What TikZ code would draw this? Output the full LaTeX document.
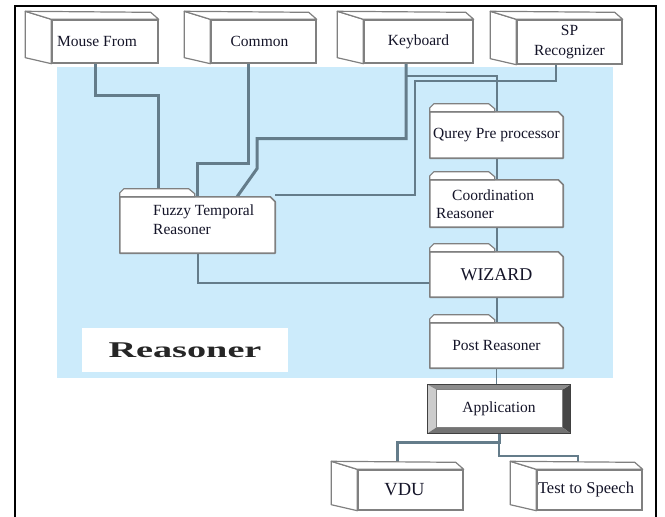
\documentclass[tikz,border=0pt]{standalone}
\usepackage{fontspec}
\setmainfont{Liberation Serif}
\usetikzlibrary{calc}
\pgfdeclarelayer{bg}
\pgfdeclarelayer{lines}
\pgfdeclarelayer{boxes}
\pgfsetlayers{bg,lines,boxes,main}

\definecolor{skyb}{RGB}{204,235,251}
\definecolor{conc}{RGB}{100,124,138}
\definecolor{edge}{RGB}{128,128,128}
\definecolor{ink}{RGB}{20,20,40}

\tikzset{
 conn/.style={draw=conc, line width=3pt},
 thinconn/.style={draw=conc, line width=2pt},
 hairconn/.style={draw=conc, line width=1pt},
 frontbox/.style={draw=edge, fill=white, line width=1.4pt, inner sep=0pt, font=\fontsize{15.5}{20}\selectfont, text=ink},
 holder/.style={inner sep=0pt, draw=none, font=\fontsize{15.5}{19}\selectfont, text=ink},
 txt/.style={font=\fontsize{15.5}{19}\selectfont, text=ink, inner sep=0pt},
 face/.style={draw=edge, fill=white, line width=1.2pt, line join=round},
}

\newcommand\cubefaces[1]{%
 \begin{pgfonlayer}{boxes}
 \path[face] (#1.north west) -- ([xshift=-26pt,yshift=8pt]#1.north west) -- ([xshift=-26pt,yshift=6pt]#1.south west) -- (#1.south west) -- cycle;
 \path[face] (#1.north west) -- ([xshift=-26pt,yshift=8pt]#1.north west) -- ([xshift=-8pt,yshift=7pt]#1.north east) -- (#1.north east) -- cycle;
 \end{pgfonlayer}}

\newcommand\folderbody[2]{%
 \begin{pgfonlayer}{boxes}
 \path[face, line width=1.6pt] (#1.north west) -- ([xshift=-5pt]#1.north east) -- ([yshift=-5pt]#1.north east) -- (#1.south east) -- (#1.south west) -- cycle;
 \path[face] (#1.north west) -- +(0,-4) -- +(4,-8) -- +(#2-6,-8) -- +(#2,-3) -- +(#2,0) -- cycle;
 \end{pgfonlayer}}

\begin{document}
\begin{tikzpicture}[x=1pt,y=-1pt]
\useasboundingbox (0,0) rectangle (665,517);

% blue region
\begin{pgfonlayer}{bg}
\fill[skyb] (57,67) rectangle (613,378);
\end{pgfonlayer}

% outer frame
\draw[line width=2.5pt] (15,517) -- (15,6) -- (656,6) -- (656,517);

% top cubes
\node[frontbox, minimum width=106pt, minimum height=43pt] (mouse) at (105,41.5) {Mouse From\kern16pt\mbox{}};
\node[frontbox, minimum width=105pt, minimum height=43pt] (common) at (263.5,41.5) {Common\kern8pt\mbox{}};
\node[frontbox, minimum width=109pt, minimum height=43pt] (kbd) at (418.5,41.5) {Keyboard};
\node[frontbox, minimum width=105pt, minimum height=44pt, align=center] (sp) at (569.5,42) {SP\\Recognizer};
\cubefaces{mouse}
\cubefaces{common}
\cubefaces{kbd}
\cubefaces{sp}

% bottom cubes
\node[frontbox, minimum width=105pt, minimum height=40pt, font=\fontsize{18.5}{20}\selectfont] (vdu) at (410.5,490) {VDU\kern12pt\mbox{}};
\node[frontbox, minimum width=105pt, minimum height=40pt, font=\fontsize{16.5}{20}\selectfont] (tts) at (589.5,490) {Test to Speech\kern7pt\mbox{}};
\cubefaces{vdu}
\cubefaces{tts}

% folders
\node[holder, minimum width=155pt, minimum height=56pt] (fuzzy) at (197.5,225) {};
\node[txt, align=left, anchor=west] (fuzzyt) at (153,220) {Fuzzy Temporal\\Reasoner};
\folderbody{fuzzy}{75}

\node[holder, minimum width=133pt, minimum height=46pt] (qurey) at (496.5,135) {Qurey Pre processor};
\folderbody{qurey}{65}

\node[holder, minimum width=133pt, minimum height=47pt] (coord) at (496.5,203.5) {};
\node[txt, anchor=west] (coordt1) at (452,195) {Coordination};
\node[txt, anchor=west] (coordt2) at (436,213) {Reasoner};
\folderbody{coord}{65}

\node[holder, minimum width=133pt, minimum height=45pt, font=\fontsize{18}{20}\selectfont] (wizard) at (496.5,274.5) {WIZARD};
\folderbody{wizard}{65}

\node[holder, minimum width=133pt, minimum height=45pt] (post) at (496.5,345.5) {Post Reasoner};
\folderbody{post}{65}

% application
\node[holder, minimum width=142pt, minimum height=48pt] (app) at (499,409) {Application};
\begin{pgfonlayer}{boxes}
\fill[black!20] (app.north west) -- ([xshift=9pt,yshift=-5pt]app.north west) -- ([xshift=9pt,yshift=6pt]app.south west) -- (app.south west) -- cycle;
\fill[black!72] (app.north east) -- ([xshift=-8pt,yshift=-5pt]app.north east) -- ([xshift=-8pt,yshift=6pt]app.south east) -- (app.south east) -- cycle;
\fill[black!45] (app.north west) -- (app.north east) -- ([xshift=-8pt,yshift=-5pt]app.north east) -- ([xshift=9pt,yshift=-5pt]app.north west) -- cycle;
\fill[black!55] (app.south west) -- (app.south east) -- ([xshift=-8pt,yshift=6pt]app.south east) -- ([xshift=9pt,yshift=6pt]app.south west) -- cycle;
\draw[edge, fill=white, line width=1pt] ([xshift=9pt,yshift=-5pt]app.north west) rectangle ([xshift=-8pt,yshift=6pt]app.south east);
\draw[black!75, line width=1.3pt] (app.north west) rectangle (app.south east);
\end{pgfonlayer}

% reasoner label
\node[fill=white, minimum width=206pt, minimum height=44pt, inner sep=0pt] (rlabel) at (185,350) {\scalebox{1.7}[1]{\fontsize{22.5}{23}\selectfont\bfseries\color{black!85}Reasoner}};

% connectors
\begin{pgfonlayer}{lines}
\draw[conn] ([xshift=-10pt]mouse.south) -- ++(0,32) -| ($(fuzzy.north west)+(39,0)$);
\draw[conn] ([xshift=-15.5pt]common.south) -- ++(0,100) -| (fuzzy.north);
\draw[conn] ([xshift=-12.5pt]kbd.south) -- ++(0,75) -- ++(-149,0) -- ++(0,30) -- ($(fuzzy.north)+(39.5,0)$);
\draw[thinconn] ([xshift=-12.5pt,yshift=-12pt]kbd.south) -| (qurey.north);
\draw[thinconn] ([xshift=-13.5pt]sp.south) -- ++(0,16) -- ++(-141,0) |- ([yshift=2pt]fuzzy.north east);
\draw[thinconn] (qurey.south) -- (coord.north);
\draw[thinconn] (coord.south) -- (wizard.north);
\draw[thinconn] (wizard.south) -- (post.north);
\draw[hairconn] (post.south) -- (post.south |- app.north);
\draw[thinconn] (fuzzy.south) |- ([yshift=-8.5pt]wizard.west);
\draw[conn] (app.south) -- ++(0,9) -| ([xshift=-13.5pt]vdu.north);
\draw[thinconn] (app.south) -- ++(0,23) -| ([xshift=-11.5pt]tts.north);
\end{pgfonlayer}
\end{tikzpicture}
\end{document}
